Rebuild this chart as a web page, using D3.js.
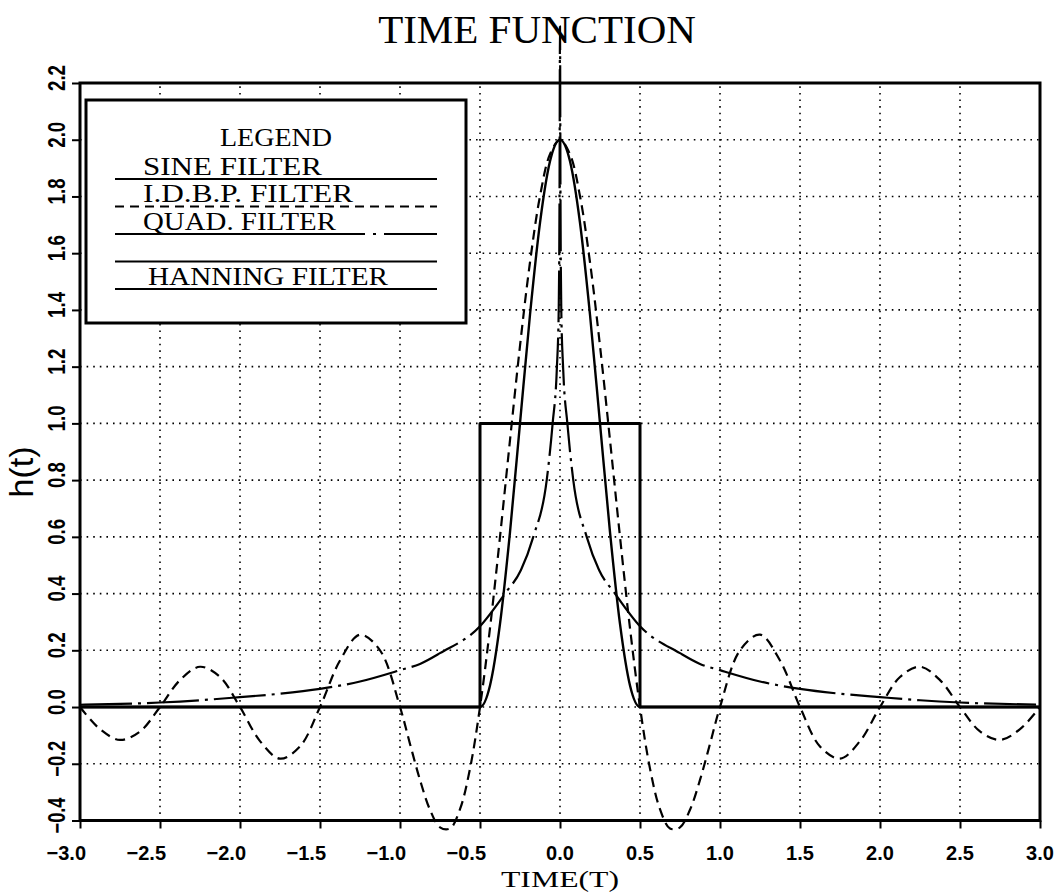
<!DOCTYPE html>
<html>
<head>
<meta charset="utf-8">
<script src="https://cdn.jsdelivr.net/npm/d3@7"></script>
<style>
  html, body { margin: 0; padding: 0; background: #fff; }
  svg { display: block; }
</style>
</head>
<body>
<script>
// ---------- DATA ----------
const xTickValues = [-3.0, -2.5, -2.0, -1.5, -1.0, -0.5, 0.0, 0.5, 1.0, 1.5, 2.0, 2.5, 3.0];
const yTickValues = [-0.4, -0.2, 0.0, 0.2, 0.4, 0.6, 0.8, 1.0, 1.2, 1.4, 1.6, 1.8, 2.0, 2.2];
const legendLabels = ["SINE FILTER", "I.D.B.P. FILTER", "QUAD. FILTER", "", "HANNING FILTER"];

// SINE FILTER (rectangular pulse)
const sineT = [-3.0, -0.5, -0.5, 0.5, 0.5, 3.0];
const sineH = [0, 0, 1.0, 1.0, 0, 0];

// I.D.B.P. FILTER (dashed)
const idbpT = [-3.0, -2.875, -2.75, -2.625, -2.5, -2.375, -2.25, -2.125, -2.0, -1.875, -1.75, -1.625, -1.5, -1.375, -1.25, -1.125,
  -1.0, -0.9375, -0.875, -0.8125, -0.75, -0.6875, -0.625, -0.5625, -0.5, -0.4375, -0.375, -0.3125, -0.25, -0.1875, -0.125, -0.0625,
  0.0, 0.0625, 0.125, 0.1875, 0.25, 0.3125, 0.375, 0.4375, 0.5, 0.5625, 0.625, 0.6875, 0.75, 0.8125, 0.875, 0.9375,
  1.0, 1.125, 1.25, 1.375, 1.5, 1.625, 1.75, 1.875, 2.0, 2.125, 2.25, 2.375, 2.5, 2.625, 2.75, 2.875, 3.0];
const idbpH = [0, -0.078, -0.116, -0.086, 0, 0.095, 0.142, 0.106, 0, -0.120, -0.182, -0.139, 0, 0.164, 0.255, 0.200,
  0, -0.130, -0.257, -0.362, -0.424, -0.428, -0.360, -0.217, 0, 0.278, 0.600, 0.941, 1.273, 1.568, 1.801, 1.949,
  2.0, 1.949, 1.801, 1.568, 1.273, 0.941, 0.600, 0.278, 0, -0.217, -0.360, -0.428, -0.424, -0.362, -0.257, -0.130,
  0, 0.200, 0.255, 0.164, 0, -0.139, -0.182, -0.120, 0, 0.106, 0.142, 0.095, 0, -0.086, -0.116, -0.078, 0];

// QUAD. FILTER (dash-dot)
const quadT = [-3.0, -2.5, -2.25, -2.0, -1.75, -1.5, -1.25, -1.0, -0.875, -0.75, -0.5, -0.344, -0.244, -0.167, -0.083, -0.046, -0.02, -0.008, -0.003, 0.0,
  0.003, 0.008, 0.02, 0.046, 0.083, 0.167, 0.244, 0.344, 0.5, 0.75, 0.875, 1.0, 1.25, 1.5, 1.75, 2.0, 2.25, 2.5, 3.0];
const quadH = [0.008, 0.016, 0.024, 0.035, 0.047, 0.064, 0.09, 0.13, 0.152, 0.19, 0.285, 0.40, 0.483, 0.60, 0.80, 1.0, 1.19, 1.4, 1.8, 2.40,
  1.8, 1.4, 1.19, 1.0, 0.80, 0.60, 0.483, 0.40, 0.285, 0.19, 0.152, 0.13, 0.09, 0.064, 0.047, 0.035, 0.024, 0.016, 0.008];

// HANNING FILTER (solid bell)
const hannT = [-3.0, -0.5, -0.4375, -0.375, -0.3125, -0.25, -0.1875, -0.125, -0.0625, 0.0, 0.0625, 0.125, 0.1875, 0.25, 0.3125, 0.375, 0.4375, 0.5, 3.0];
const hannH = [0, 0, 0.076, 0.293, 0.617, 1.0, 1.383, 1.707, 1.924, 2.0, 1.924, 1.707, 1.383, 1.0, 0.617, 0.293, 0.076, 0, 0];

// ---------- LAYOUT ----------
const W = 1064, H = 893;
const X0 = 80, X1 = 1040, Y0 = 820.5, Y1 = 83;
const svg = d3.select("body").append("svg").attr("width", W).attr("height", H);

const x = d3.scaleLinear().domain([-3, 3]).range([X0, X1]);
const y = d3.scaleLinear().domain([-0.4, 2.2]).range([Y0, Y1]);

const fmt = d3.format(".1f");
const serif = "'Liberation Serif', 'Times New Roman', serif";
const sans = "'Liberation Sans', Arial, sans-serif";

// grid
const grid = svg.append("g").attr("stroke", "#000").attr("stroke-width", 1.6)
  .attr("stroke-dasharray", "1.6,5").attr("fill", "none");
grid.selectAll("line.v").data(xTickValues.slice(1, -1)).join("line")
  .attr("x1", d => x(d)).attr("x2", d => x(d)).attr("y1", Y0).attr("y2", Y1);
grid.selectAll("line.h").data(yTickValues.slice(1, -1)).join("line")
  .attr("x1", X0).attr("x2", X1).attr("y1", d => y(d)).attr("y2", d => y(d));

// axes with d3
const xAxis = d3.axisBottom(x).tickValues(xTickValues).tickSize(8).tickFormat("");
const gx = svg.append("g").attr("transform", `translate(0,${Y0})`).call(xAxis);
gx.select(".domain").remove();
gx.selectAll(".tick line").attr("stroke", "#000").attr("stroke-width", 2);

const yAxis = d3.axisLeft(y).tickValues(yTickValues).tickSize(8).tickFormat("");
const gy = svg.append("g").attr("transform", `translate(${X0},0)`).call(yAxis);
gy.select(".domain").remove();
gy.selectAll(".tick line").attr("stroke", "#000").attr("stroke-width", 2);

// x tick labels
svg.append("g").selectAll("text").data(xTickValues).join("text")
  .attr("x", d => d < 0 ? x(d) + 6 : x(d))
  .attr("y", 860)
  .attr("text-anchor", d => d < 0 ? "end" : "middle")
  .attr("font-family", sans).attr("font-weight", "bold").attr("font-size", 20)
  .text(d => d < 0 ? "\u2212" + fmt(-d) : fmt(d));

// y tick labels (rotated)
svg.append("g").selectAll("text").data(yTickValues).join("text")
  .attr("transform", d => `translate(65,${y(d) - 5}) rotate(-90)`)
  .attr("text-anchor", "middle")
  .attr("font-family", sans).attr("font-weight", "bold").attr("font-size", 23)
  .attr("textLength", d => d < 0 ? 36 : 26).attr("lengthAdjust", "spacingAndGlyphs")
  .text(d => d < 0 ? "\u2212" + fmt(-d) : fmt(d));

// curves
const pts = (ts, hs) => ts.map((t, i) => [t, hs[i]]);
const lineLinear = d3.line().x(d => x(d[0])).y(d => y(d[1]));
const lineCR = d3.line().x(d => x(d[0])).y(d => y(d[1])).curve(d3.curveCatmullRom.alpha(0.5));
const lineMono = d3.line().x(d => x(d[0])).y(d => y(d[1])).curve(d3.curveMonotoneX);

const curves = svg.append("g").attr("fill", "none").attr("stroke", "#000").attr("stroke-linejoin", "round");
curves.append("path").attr("d", lineMono(pts(hannT, hannH))).attr("stroke-width", 2.4);
curves.append("path").attr("d", lineLinear(pts(sineT, sineH))).attr("stroke-width", 3);
curves.append("path").attr("d", lineCR(pts(idbpT, idbpH))).attr("stroke-width", 2.2)
  .attr("stroke-dasharray", "10,6");
curves.append("path").attr("d", lineMono(pts(quadT, quadH))).attr("stroke-width", 2.2)
  .attr("stroke-dasharray", "52,6,3,6");

// frame
svg.append("rect").attr("x", X0).attr("y", Y1).attr("width", X1 - X0).attr("height", Y0 - Y1)
  .attr("fill", "none").attr("stroke", "#000").attr("stroke-width", 3);

// legend
const lg = svg.append("g");
lg.append("rect").attr("x", 86).attr("y", 100).attr("width", 380).attr("height", 223)
  .attr("fill", "#fff").attr("stroke", "#000").attr("stroke-width", 3);
lg.append("text").attr("x", 276).attr("y", 146).attr("text-anchor", "middle")
  .attr("font-family", serif).attr("font-size", 26)
  .attr("textLength", 112).attr("lengthAdjust", "spacingAndGlyphs").text("LEGEND");
const legendDash = ["none", "9,6", "250,8,3,8", "none", "none"];
const legendWidths = [179, 210, 193, 0, 240];
legendLabels.forEach((lab, i) => {
  const ly = 179 + 27.5 * i;
  lg.append("line").attr("x1", 115).attr("x2", 437).attr("y1", ly).attr("y2", ly)
    .attr("stroke", "#000").attr("stroke-width", 2).attr("stroke-dasharray", legendDash[i]);
  if (lab) {
    lg.append("text").attr("x", i === 4 ? 148 : 143).attr("y", ly - 4.5)
      .attr("font-family", serif).attr("font-size", 26)
      .attr("textLength", legendWidths[i]).attr("lengthAdjust", "spacingAndGlyphs")
      .text(lab);
  }
});

// titles
svg.append("text").attr("x", 537).attr("y", 43).attr("text-anchor", "middle")
  .attr("font-family", serif).attr("font-size", 41).text("TIME FUNCTION");
svg.append("text").attr("x", 560).attr("y", 887).attr("text-anchor", "middle")
  .attr("font-family", serif).attr("font-size", 24)
  .attr("textLength", 118).attr("lengthAdjust", "spacingAndGlyphs").text("TIME(T)");
svg.append("text").attr("transform", "translate(33,472) rotate(-90)").attr("text-anchor", "middle")
  .attr("font-family", sans).attr("font-size", 34).text("h(t)");
</script>
</body>
</html>
